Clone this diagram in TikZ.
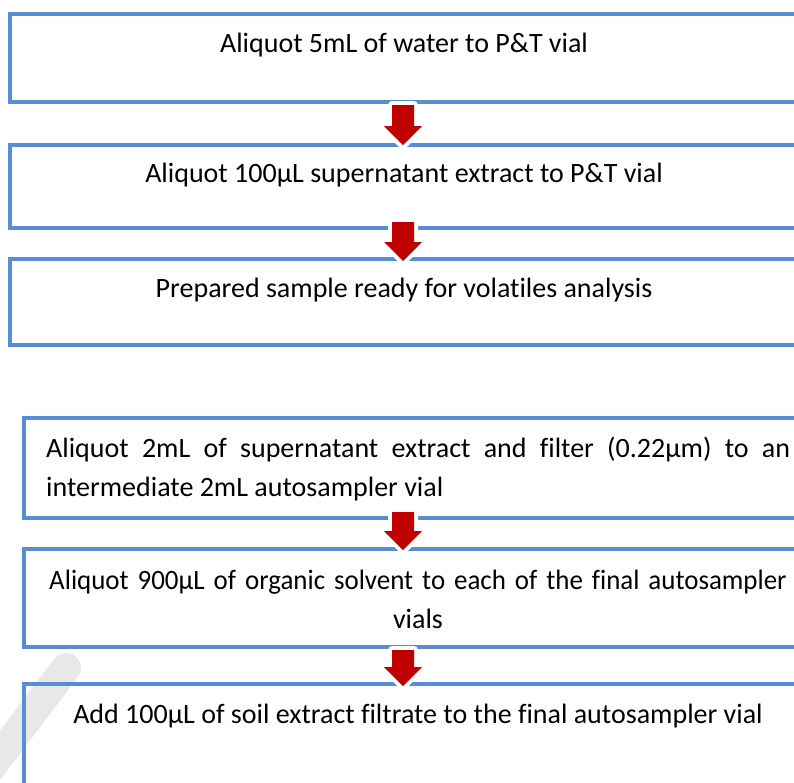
\documentclass[tikz,border=0pt]{standalone}
\usepackage{fontspec}
\newfontfamily\stepfont[Ligatures=NoCommon]{Carlito}
\usetikzlibrary{calc}
\definecolor{boxblue}{RGB}{86,141,212}
\definecolor{arrred}{RGB}{192,0,0}
\definecolor{wmgray}{RGB}{232,232,232}
\tikzset{
  flowbox/.style={draw=boxblue, line width=4pt, rectangle, inner sep=0pt, outer sep=0pt,
    minimum width=788pt, anchor=north west},
  steptext/.style={font={\stepfont\fontsize{28}{39}\selectfont}, inner sep=0pt, text=black},
  blockarr/.style={fill=arrred, preaction={draw=white, line width=8pt, line join=round}}
}
\newcommand\blockarrow[2]{%
  \path[blockarr] let \p1=#1, \p2=#2 in
    (\x1-11pt,\y1) -- (\x1+11pt,\y1) -- (\x1+11pt,\y2+19pt) -- (\x1+19pt,\y2+19pt)
    -- (\x1,\y2) -- (\x1-19pt,\y2+19pt) -- (\x1-11pt,\y2+19pt) -- cycle;}
\begin{document}
\begin{tikzpicture}[x=1pt,y=-1pt]
\useasboundingbox (0,0) rectangle (794,782);
\clip (0,0) rectangle (794,782);
% faint watermark stroke
\draw[wmgray, line width=30pt, line cap=round] (66,668) -- (-30,795);
% boxes
\node[flowbox, minimum height=88.5pt] (b1) at (10,13.5) {};
\node[flowbox, minimum height=83.3pt] (b2) at (10,144.7) {};
\node[flowbox, minimum height=86pt] (b3) at (10,259) {};
\node[flowbox, minimum height=100pt] (b4) at (24,418) {};
\node[flowbox, minimum height=98pt] (b5) at (24,549) {};
\node[flowbox, minimum height=140pt] (b6) at (24,684) {};
% texts
\node[steptext, anchor=base] (t1) at ($(b1.north)+(0,38.5)$) {Aliquot 5mL of water to P\&T vial};
\node[steptext, anchor=base] (t2) at ($(b2.north)+(0,37.5)$) {Aliquot 100µL supernatant extract to P\&T vial};
\node[steptext, anchor=base] (t3) at ($(b3.north)+(0,38.5)$) {Prepared sample ready for volatiles analysis};
\node[steptext, anchor=base west, text width=744pt, align=justify] (t4) at ($(b4.north west)+(22,39)$)
  {Aliquot 2mL of supernatant extract and filter (0.22µm) to an\linebreak intermediate 2mL autosampler vial};
\node[steptext, anchor=base, text width=780pt, align=center] (t5) at ($(b5.north)+(0,40)$)
  {\scalebox{0.962}[1]{Aliquot 900µL of organic solvent to each of the final autosampler}\\vials};
\node[steptext, anchor=base] (t6) at ($(b6.north)+(0,39)$) {Add 100µL of soil extract filtrate to the final autosampler vial};
% arrows
\coordinate (ax) at (403,0);
\blockarrow{($(ax |- b1.south)+(0,3)$)}{($(ax |- b2.north)+(0,0.5)$)}
\blockarrow{($(ax |- b2.south)+(0,-6)$)}{($(ax |- b3.north)+(0,2)$)}
\blockarrow{($(ax |- b4.south)+(0,-6)$)}{($(ax |- b5.north)+(0,1)$)}
\blockarrow{($(ax |- b5.south)+(0,3)$)}{($(ax |- b6.north)+(0,2)$)}
\end{tikzpicture}
\end{document}
